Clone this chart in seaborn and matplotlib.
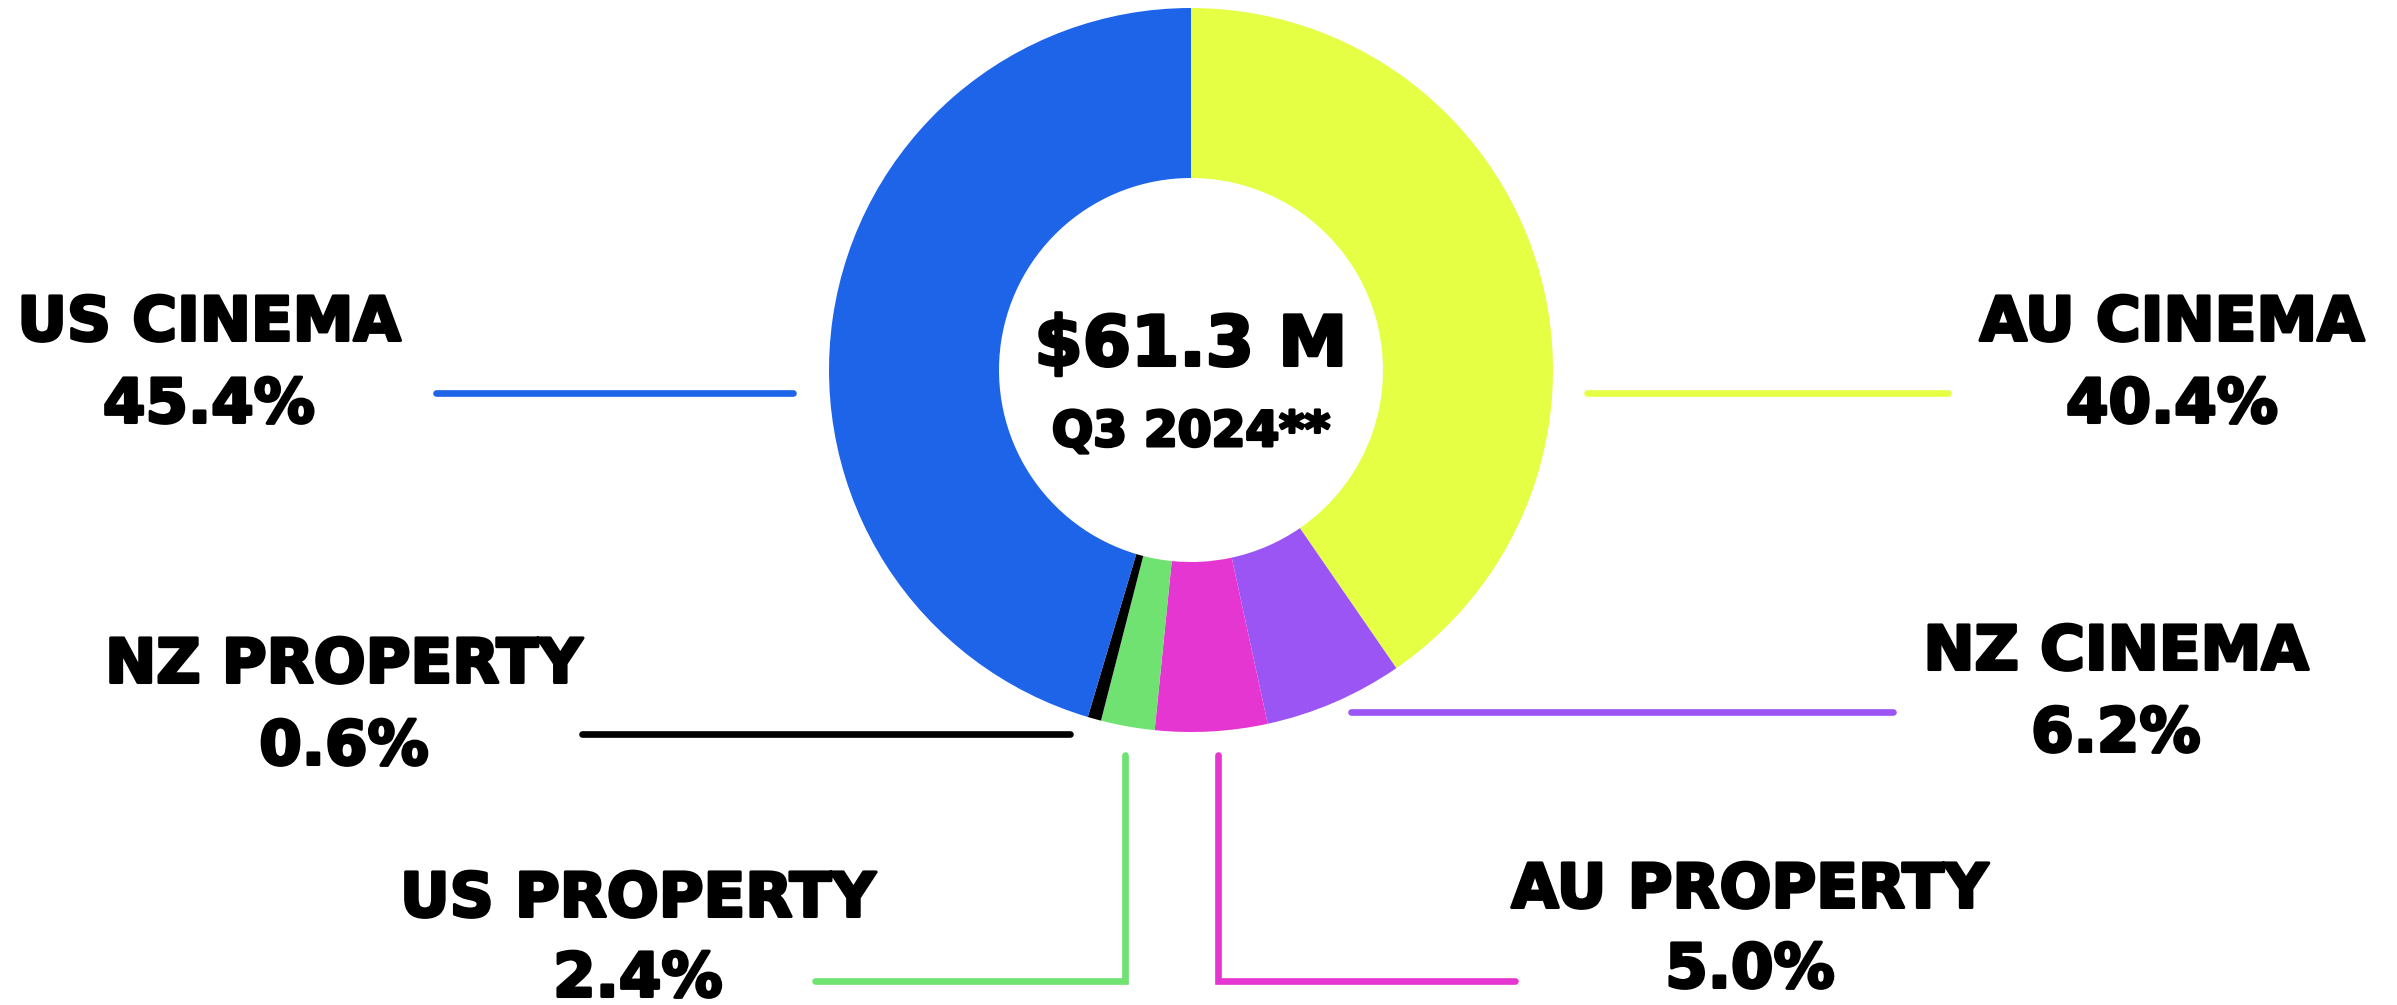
import matplotlib
matplotlib.use("Agg")
import matplotlib.pyplot as plt
import matplotlib.patheffects as pe
import seaborn as sns

sns.set_theme(style="white")
plt.rcParams['font.family'] = ['DejaVu Sans']

# ---- data ----
segments = ["AU CINEMA", "NZ CINEMA", "AU PROPERTY", "US PROPERTY", "NZ PROPERTY", "US CINEMA"]
shares = [40.4, 6.2, 5.0, 2.4, 0.6, 45.4]
colors = ["#E5FF45", "#9B55F5", "#E636D2", "#70E272", "#000000", "#1E64E9"]
total_label = "$61.3 M"
period_label = "Q3 2024**"

W, H = 2397, 1005
fig = plt.figure(figsize=(W / 100, H / 100), dpi=100)
ax = fig.add_axes([0, 0, 1, 1])

def Y(y):
    return H - y

cx, cy, R, r_in = 1191, 370, 362, 192
ax.pie(shares, colors=colors, startangle=90, counterclock=False,
       center=(cx, Y(cy)), radius=R,
       wedgeprops=dict(width=R - r_in, linewidth=0, antialiased=True))
ax.set_xlim(0, W)
ax.set_ylim(0, H)
ax.set_aspect('equal')
ax.axis('off')

thick = [pe.withStroke(linewidth=2.2, foreground='black')]
tkw = dict(ha='center', va='center', fontweight='bold', color='black', path_effects=thick)

ax.text(cx, Y(346), total_label, fontsize=50, **tkw)
ax.text(cx, Y(432), period_label, fontsize=35, **tkw)

lw = 4.8
def seg(xs, ys, c):
    ax.plot(xs, [Y(v) for v in ys], color=c, lw=lw, solid_capstyle='round', solid_joinstyle='miter')

# leader lines
seg([436, 793], [393, 393], colors[5])
seg([1587, 1948], [393, 393], colors[0])
seg([582, 1070], [734, 734], colors[4])
seg([1351, 1893], [712, 712], colors[1])
seg([815, 1125, 1125], [981, 981, 755], colors[3])
seg([1218, 1218, 1515], [755, 981, 981], colors[2])

# labels (x, y_name, y_pct)
label_pos = {
    "US CINEMA": (209, 324, 406),
    "AU CINEMA": (2172, 324, 406),
    "NZ PROPERTY": (344, 666, 748),
    "NZ CINEMA": (2116, 653, 735),
    "US PROPERTY": (638, 900, 980),
    "AU PROPERTY": (1750, 891, 971),
}
for name, val in zip(segments, shares):
    x, yn, yp = label_pos[name]
    ax.text(x, Y(yn), name, fontsize=44, **tkw)
    ax.text(x, Y(yp), f"{val:.1f}%", fontsize=44, **tkw)

fig.savefig("out.png", dpi=100, facecolor='white')
